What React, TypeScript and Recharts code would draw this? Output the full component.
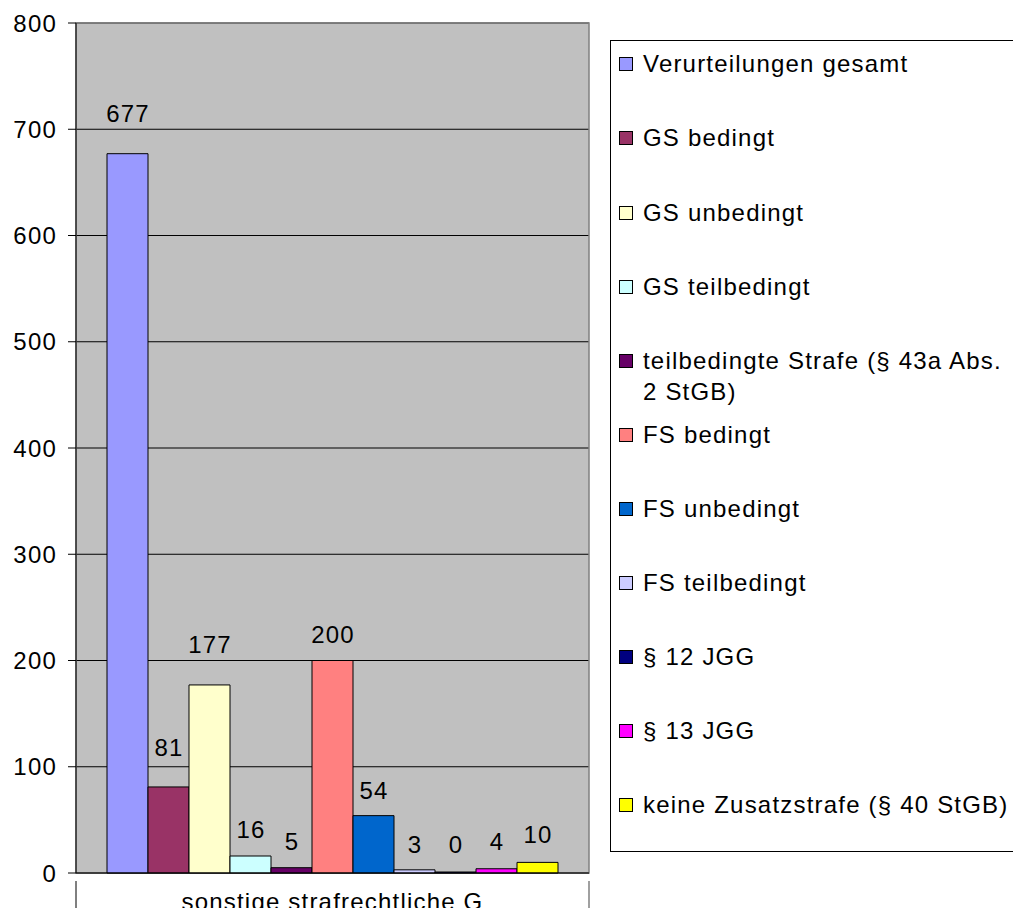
import React from "react";
import { BarChart, Bar, XAxis, YAxis, CartesianGrid, LabelList, ReferenceArea } from "recharts";

const categories = ["sonstige strafrechtliche G"];
const seriesNames = [
  "Verurteilungen gesamt",
  "GS bedingt",
  "GS unbedingt",
  "GS teilbedingt",
  "teilbedingte Strafe (§ 43a Abs. 2 StGB)",
  "FS bedingt",
  "FS unbedingt",
  "FS teilbedingt",
  "§ 12 JGG",
  "§ 13 JGG",
  "keine Zusatzstrafe (§ 40 StGB)",
];
const seriesValues = [677, 81, 177, 16, 5, 200, 54, 3, 0, 4, 10];
const yTicks = [0, 100, 200, 300, 400, 500, 600, 700, 800];

// styles
const seriesColors = [
  "#9999FF", "#993366", "#FFFFCC", "#CCFFFF", "#660066", "#FF8080",
  "#0066CC", "#CCCCFF", "#000080", "#FF00FF", "#FFFF00",
];
const labelOffsets = [32, 31, 32, 18, 18, 18, 17, 17, 19, 19, 19];
const FONT = "'Liberation Sans', Arial, sans-serif";
const FS = 24;
const LS = 1.2;

const data = categories.map((c) => {
  const row: Record<string, any> = { cat: c };
  seriesNames.forEach((_, i) => {
    row["s" + i] = seriesValues[i];
  });
  return row;
});

const legendCenters = [62, 136, 211, 285, 359, 433, 507, 581, 655, 729, 803];
const LH = 31;

const LegendBox = () => (
  <div
    style={{
      position: "absolute",
      left: 610,
      top: 40,
      width: 420,
      height: 812,
      border: "1px solid #000",
      background: "#fff",
      boxSizing: "border-box",
      fontFamily: FONT,
      fontSize: FS,
      letterSpacing: LS,
      color: "#000",
    }}
  >
    {seriesNames.map((n, i) => (
      <div
        key={n}
        style={{
          position: "absolute",
          left: 8,
          top: legendCenters[i] - 40 - LH / 2,
          display: "flex",
          alignItems: "flex-start",
        }}
      >
        <div
          style={{
            width: 12,
            height: 12,
            marginTop: (LH - 13) / 2,
            background: seriesColors[i],
            border: "1.5px solid #000",
            flex: "none",
          }}
        />
        <div style={{ marginLeft: 10, width: 372, lineHeight: LH + "px" }}>{n}</div>
      </div>
    ))}
  </div>
);

const CatTick = (props: any) => {
  const { x, y, payload, width } = props;
  const half = width / 2;
  return (
    <g>
      <line x1={x - half} y1={y} x2={x - half} y2={y + 40} stroke="#000" strokeWidth={1} />
      <line x1={x + half} y1={y} x2={x + half} y2={y + 40} stroke="#808080" strokeWidth={1.5} />
      <text x={x} y={y + 29} textAnchor="middle" fontFamily={FONT} fontSize={FS} letterSpacing={LS} fill="#000">
        {payload.value}
      </text>
    </g>
  );
};

const YTick = (props: any) => {
  const { x, y, payload } = props;
  return (
    <text x={x} y={y + 8.5} textAnchor="end" fontFamily={FONT} fontSize={FS} letterSpacing={LS} fill="#000">
      {payload.value}
    </text>
  );
};

const BarLabel = (props: any) => {
  const { x, y, width, value, offset } = props;
  return (
    <text x={x + width / 2 + LS / 2} y={y - offset} textAnchor="middle" fontFamily={FONT} fontSize={FS} letterSpacing={LS} fill="#000">
      {value}
    </text>
  );
};

export default function App() {
  return (
    <div style={{ position: "absolute", left: 0, top: 0, width: 1013, height: 908, background: "#fff", overflow: "hidden" }}>
      <BarChart
        width={1013}
        height={908}
        data={data}
        margin={{ top: 23, right: 424, bottom: 0, left: 0 }}
        barCategoryGap={31}
        barGap={0}
      >
        <CartesianGrid vertical={false} stroke="#000" fill="#C0C0C0" />
        <ReferenceArea y1={0} y2={800} fill="none" stroke="#808080" strokeWidth={1.5} />
        <XAxis
          dataKey="cat"
          axisLine={{ stroke: "#000" }}
          tickLine={false}
          tick={<CatTick />}
          interval={0}
          height={35}
        />
        <YAxis
          domain={[0, 800]}
          ticks={yTicks}
          width={76}
          axisLine={{ stroke: "#000" }}
          tickLine={{ stroke: "#000" }}
          tickSize={8}
          tickMargin={11}
          tick={<YTick />}
          interval={0}
        />
        {seriesNames.map((n, i) => (
          <Bar
            key={n}
            dataKey={"s" + i}
            name={n}
            fill={seriesColors[i]}
            stroke="#000"
            strokeWidth={1}
            minPointSize={1}
            isAnimationActive={false}
          >
            <LabelList dataKey={"s" + i} offset={labelOffsets[i]} content={<BarLabel />} />
          </Bar>
        ))}
      </BarChart>
      <LegendBox />
    </div>
  );
}
